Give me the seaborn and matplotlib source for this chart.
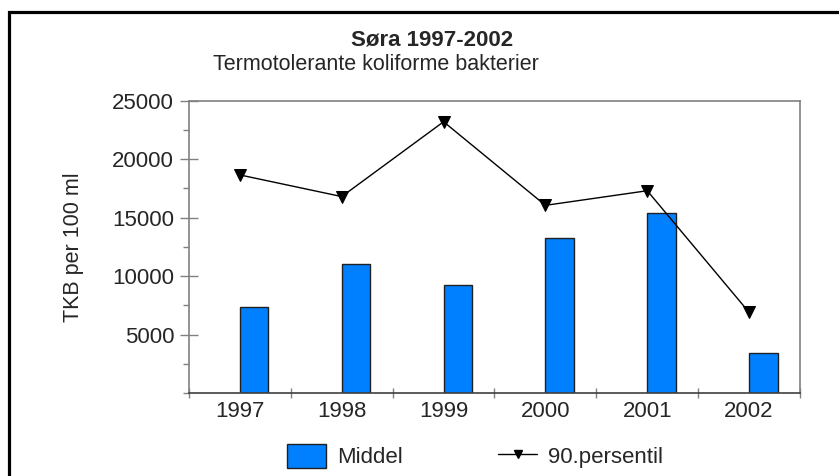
import matplotlib
matplotlib.use("Agg")
import matplotlib.pyplot as plt
import matplotlib.patches as mpatches
from matplotlib.lines import Line2D
from matplotlib.ticker import MultipleLocator, FixedLocator, FixedFormatter
import pandas as pd
import seaborn as sns

# data
years = ["1997", "1998", "1999", "2000", "2001", "2002"]
middel = [7350, 11030, 9200, 13220, 15360, 3440]
persentil90 = [18650, 16800, 23200, 16050, 17300, 6900]
yticks = [5000, 10000, 15000, 20000, 25000]

df = pd.DataFrame({"year": years, "Middel": middel, "90.persentil": persentil90})

sns.set_style("white")
plt.rcParams["font.family"] = ["Liberation Sans", "DejaVu Sans"]

fig = plt.figure(figsize=(8.39, 4.76), dpi=100)
ax = fig.add_axes([189 / 839, 1 - 393 / 476, 611 / 839, 292.3 / 476])

blue = "#0080ff"
grey = "#808080"
bar_w = 0.28

sns.barplot(data=df, x="year", y="Middel", color=blue, width=bar_w,
            edgecolor="#202020", linewidth=1.0, saturation=1, ax=ax, zorder=2)
# bars sit to the right of the category centre
for p in ax.patches:
    p.set_x(p.get_x() + bar_w / 2)

sns.pointplot(data=df, x="year", y="90.persentil", color="black", marker="v",
              markersize=8, linewidth=1.0, ax=ax, zorder=3)

ax.set_xlim(-0.5, 5.5)
ax.set_ylim(0, 25000)
ax.set_xlabel("")
ax.set_ylabel("TKB per 100 ml", fontsize=15.5, labelpad=20)

# y axis: labelled majors crossing the spine, small minors outside
ax.yaxis.set_major_locator(FixedLocator(yticks))
ax.yaxis.set_minor_locator(MultipleLocator(2500))
ax.tick_params(axis="y", which="major", direction="inout", length=13.5,
               width=1, color=grey, labelsize=16, pad=4, left=True)
ax.tick_params(axis="y", which="minor", direction="out", length=4.3,
               width=1, color=grey, left=True)

# x axis: ticks on category boundaries, labels at centres
ax.xaxis.set_major_locator(FixedLocator([i - 0.5 for i in range(len(years) + 1)]))
ax.xaxis.set_major_formatter(FixedFormatter([""] * (len(years) + 1)))
ax.xaxis.set_minor_locator(FixedLocator(range(len(years))))
ax.xaxis.set_minor_formatter(FixedFormatter(years))
ax.tick_params(axis="x", which="major", direction="inout", length=7, width=1,
               color=grey, bottom=True)
ax.tick_params(axis="x", which="minor", length=0, labelsize=16, pad=6, bottom=True)

for s in ax.spines.values():
    s.set_visible(True)
    s.set_color(grey)
    s.set_linewidth(1.2)
ax.spines["bottom"].set_color("#404040")

fig.text(432 / 839, 1 - 40 / 476, "Søra 1997-2002", ha="center", va="center",
         fontsize=16, fontweight="bold")
fig.text(213 / 839, 1 - 64 / 476, "Termotolerante koliforme bakterier",
         ha="left", va="center", fontsize=15.5)

handles = [mpatches.Patch(facecolor=blue, edgecolor="#202020", linewidth=1.0),
           Line2D([], [], color="black", marker="v", markersize=6, linewidth=1.0)]
fig.legend(handles, ["Middel", "90.persentil"], loc="center",
           bbox_to_anchor=(475 / 839, 1 - 456 / 476), ncol=2, frameon=False,
           fontsize=16, handlelength=1.75, handleheight=1.3, columnspacing=4.3,
           handletextpad=0.5)

# outer frame of the original graphic
fig.patches.append(mpatches.Rectangle((8.5 / 839, -0.1), 1.0, 1 - 11.5 / 476 + 0.1,
                                      transform=fig.transFigure, fill=False,
                                      edgecolor="black", linewidth=2.3, clip_on=False))

fig.savefig("out.png", dpi=100)
